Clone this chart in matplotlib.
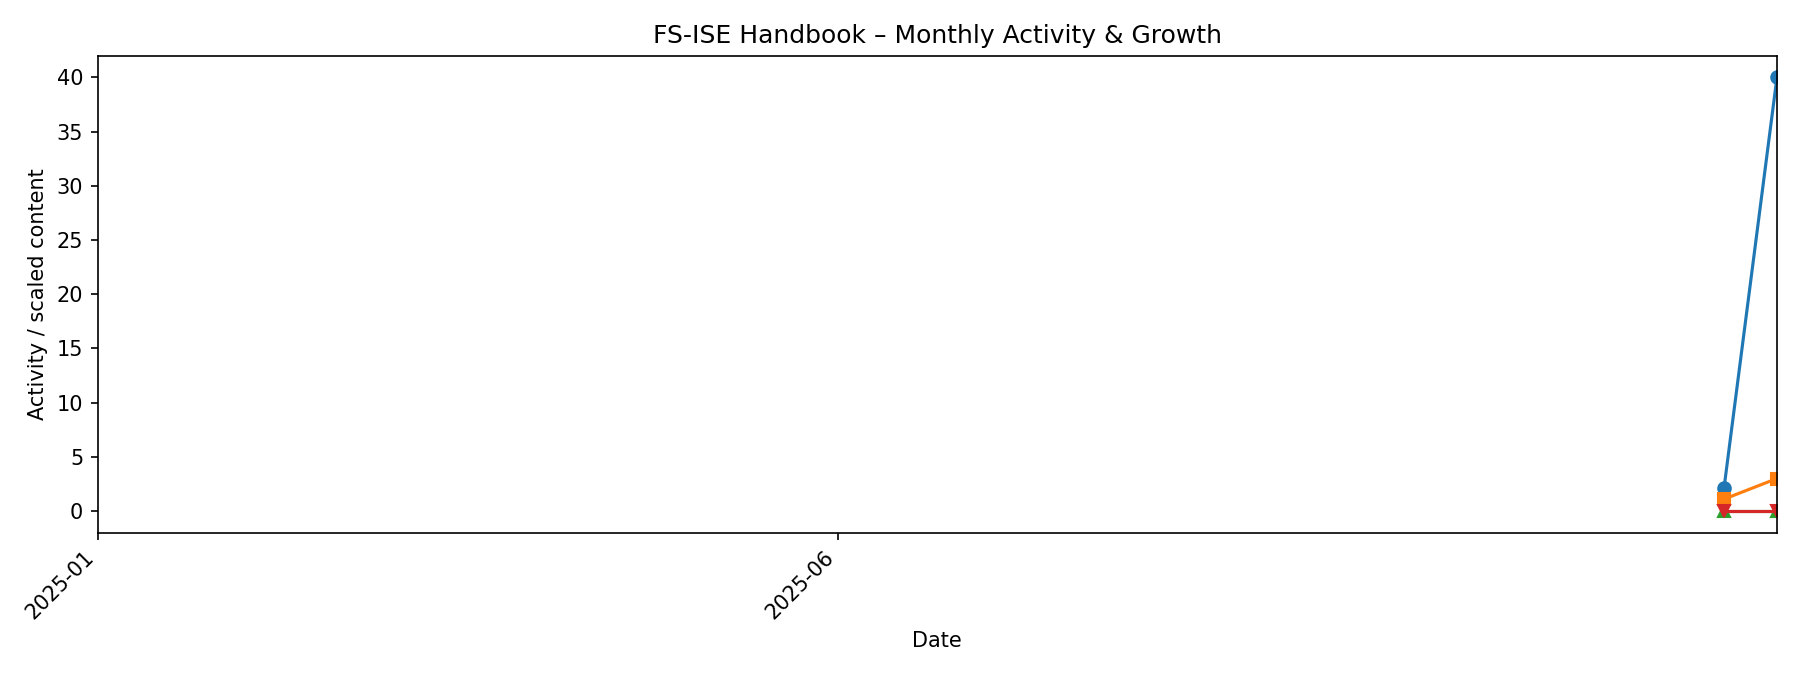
import datetime as dt

import matplotlib
matplotlib.use("Agg")
import matplotlib.dates as mdates
import matplotlib.pyplot as plt


DATES = [dt.datetime(2025, 11, 28, 19), dt.datetime(2025, 12, 9, 14)]
SERIES = {
    "views": [2.15, 40.0],
    "edits": [1.1, 3.0],
    "new_pages": [0.0, 0.0],
    "removed": [0.0, 0.0],
}
STYLE = {
    "views": {"color": "#1f77b4", "marker": "o"},
    "edits": {"color": "#ff7f0e", "marker": "s"},
    "new_pages": {"color": "#2ca02c", "marker": "^"},
    "removed": {"color": "#d62728", "marker": "v"},
}
X_START = dt.datetime(2025, 1, 1)
TICK_DATES = [dt.datetime(2025, 1, 1), dt.datetime(2025, 6, 1)]


def main() -> None:
    fig, ax = plt.subplots(figsize=(12, 4.5), dpi=150)

    for name, ys in SERIES.items():
        ax.plot(DATES, ys, label=name, linewidth=1.5, markersize=6, **STYLE[name])

    ax.set_xlim(X_START, DATES[-1])
    ax.set_xticks(TICK_DATES)
    ax.xaxis.set_major_formatter(mdates.DateFormatter("%Y-%m"))
    plt.setp(ax.get_xticklabels(), rotation=45, ha="right")

    ax.set_title("FS-ISE Handbook \u2013 Monthly Activity & Growth")
    ax.set_xlabel("Date")
    ax.set_ylabel("Activity / scaled content")

    fig.subplots_adjust(left=0.0543, right=0.9872, top=0.9175, bottom=0.2108)
    fig.savefig("out.png", dpi=150)
    plt.close(fig)


if __name__ == "__main__":
    main()
